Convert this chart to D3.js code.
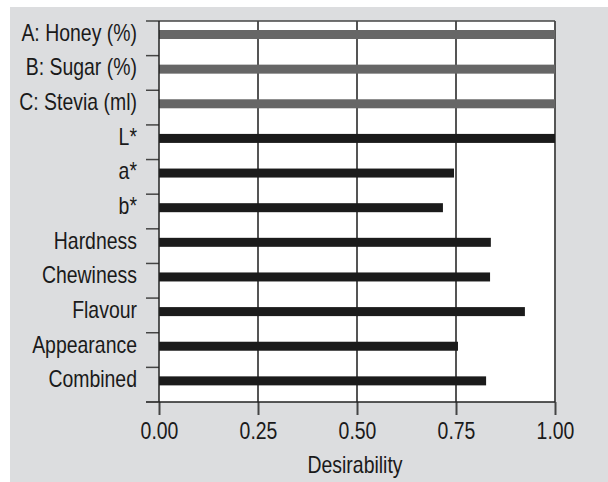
<!DOCTYPE html>
<html>
<head>
<meta charset="utf-8">
<script src="https://cdn.jsdelivr.net/npm/d3@7"></script>
<style>
  body { margin: 0; background: #fff; }
  text { font-family: "Liberation Sans", Arial, sans-serif; fill: #1a1a1a; }
</style>
</head>
<body>
<svg id="chart" width="608" height="482"></svg>
<script>
// data
var categories = ["A: Honey (%)", "B: Sugar (%)", "C: Stevia (ml)", "L*", "a*", "b*",
                  "Hardness", "Chewiness", "Flavour", "Appearance", "Combined"];
var desirability = [1.0, 1.0, 1.0, 1.0, 0.745, 0.717, 0.838, 0.836, 0.924, 0.755, 0.826];
var isFactor = [true, true, true, false, false, false, false, false, false, false, false];
var xTicks = [0, 0.25, 0.5, 0.75, 1.0];
var xTitle = "Desirability";

var svg = d3.select("#chart");
var fontSize = 24;
var squeeze = 0.81; // the reference type is narrow

// narrow the text horizontally like the original
function condense(sel) {
  sel.each(function () {
    var w = this.getComputedTextLength();
    d3.select(this).attr("textLength", w * squeeze).attr("lengthAdjust", "spacingAndGlyphs");
  });
}

svg.append("rect")
  .attr("x", 10).attr("y", 7)
  .attr("width", 598).attr("height", 475)
  .attr("fill", "#dcdddf");

var margin = { top: 21, left: 159, right: 555, bottom: 402 };

var x = d3.scaleLinear().domain([0, 1]).range([margin.left, margin.right]);
var y = d3.scaleBand().domain(categories).range([margin.top, margin.bottom]).padding(0);
var bw = y.bandwidth();

// plot area
svg.append("rect")
  .attr("x", x(0)).attr("y", margin.top)
  .attr("width", x(1) - x(0)).attr("height", margin.bottom - margin.top)
  .attr("fill", "#fff");

// grid lines (extend below axis as ticks)
svg.append("g").selectAll("line")
  .data(xTicks.slice(1))
  .join("line")
  .attr("x1", function (d) { return x(d); })
  .attr("x2", function (d) { return x(d); })
  .attr("y1", margin.top)
  .attr("y2", margin.bottom)
  .attr("stroke", "#555")
  .attr("stroke-width", 2);

// top border
svg.append("line")
  .attr("x1", x(0)).attr("x2", x(1))
  .attr("y1", margin.top).attr("y2", margin.top)
  .attr("stroke", "#444").attr("stroke-width", 1.5);

// bars
svg.append("g").selectAll("rect")
  .data(categories)
  .join("rect")
  .attr("x", x(0))
  .attr("y", function (d) { return y(d) + bw * 0.26; })
  .attr("width", function (d, i) { return x(desirability[i]) - x(0); })
  .attr("height", bw * 0.26)
  .attr("fill", function (d, i) { return isFactor[i] ? "#666" : "#1b1b1b"; });

// x axis
var xAxis = svg.append("g")
  .attr("transform", "translate(0," + margin.bottom + ")")
  .call(d3.axisBottom(x).tickValues(xTicks).tickFormat(d3.format(".2f"))
    .tickSize(13).tickPadding(7));
xAxis.select(".domain").remove();
xAxis.selectAll(".tick line").attr("stroke", "#444").attr("stroke-width", 2);
xAxis.selectAll(".tick text")
  .attr("font-size", fontSize)
  .style("font-family", "'Liberation Sans', Arial, sans-serif")
  .attr("fill", "#1a1a1a")
  .call(condense);

svg.append("line")
  .attr("x1", x(0) - 13).attr("x2", x(1))
  .attr("y1", margin.bottom).attr("y2", margin.bottom)
  .attr("stroke", "#222").attr("stroke-width", 1.5);

// y axis: ticks sit on band boundaries
var bounds = categories.map(function (c) { return y(c); }).concat([y.range()[1]]);
svg.append("g").selectAll("line")
  .data(bounds)
  .join("line")
  .attr("x1", x(0) - 13).attr("x2", x(0))
  .attr("y1", function (d) { return d; })
  .attr("y2", function (d) { return d; })
  .attr("stroke", "#444")
  .attr("stroke-width", 1.5);

svg.append("line")
  .attr("x1", x(0)).attr("x2", x(0))
  .attr("y1", margin.top).attr("y2", margin.bottom)
  .attr("stroke", "#222").attr("stroke-width", 1.5);

svg.append("g").selectAll("text")
  .data(categories)
  .join("text")
  .attr("x", x(0) - 22)
  .attr("y", function (d) { return y(d) + bw * 0.33; })
  .attr("dy", "0.35em")
  .attr("text-anchor", "end")
  .attr("font-size", fontSize)
  .text(function (d) { return d; })
  .call(condense);

svg.append("text")
  .attr("x", (x(0) + x(1)) / 2 - 2)
  .attr("y", 473)
  .attr("text-anchor", "middle")
  .attr("font-size", fontSize)
  .text(xTitle)
  .call(condense);
</script>
</body>
</html>
